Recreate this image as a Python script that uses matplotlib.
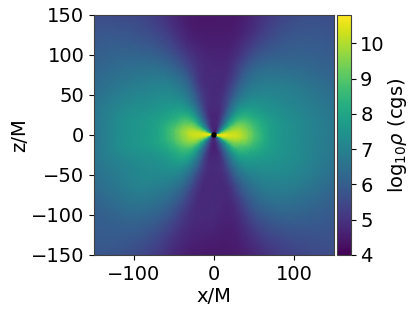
# density slice in the x-z plane, values on a polar grid
import numpy as np
import matplotlib
matplotlib.use('Agg')
import matplotlib.pyplot as plt
import matplotlib.tri as mtri

theta_deg = [0, 7, 16, 30, 48, 66, 78, 90, 102, 114, 132, 150, 164, 173,
             180, 187, 196, 210, 228, 246, 258, 270, 282, 294, 312, 330, 344, 353]
radii = [3, 6, 10, 16, 24, 35, 50, 70, 95, 125, 160, 215]

rho_r3 = [10.7, 10.4, 9.0, 6.8, 5.2, 4.6, 4.5, 4.6, 4.5, 4.6, 5.2, 6.8, 9.0, 10.4,
          10.7, 10.4, 9.0, 6.8, 5.2, 4.8, 4.6, 4.6, 4.6, 4.8, 5.2, 6.8, 9.0, 10.4]
rho_r6 = [10.7, 10.5, 9.4, 7.4, 5.6, 4.8, 4.6, 4.6, 4.6, 4.8, 5.6, 7.4, 9.4, 10.5,
          10.7, 10.5, 9.4, 7.4, 5.7, 5.0, 4.7, 4.7, 4.7, 5.0, 5.7, 7.4, 9.4, 10.5]
rho_r10 = [10.6, 10.4, 9.7, 7.9, 6.1, 5.0, 4.7, 4.7, 4.7, 5.0, 6.1, 7.9, 9.7, 10.4,
           10.6, 10.4, 9.7, 7.9, 6.1, 5.2, 4.8, 4.7, 4.8, 5.2, 6.1, 7.9, 9.7, 10.4]
rho_r16 = [10.5, 10.3, 9.8, 8.3, 6.5, 5.2, 4.8, 4.7, 4.8, 5.2, 6.5, 8.3, 9.8, 10.3,
           10.4, 10.3, 9.8, 8.3, 6.5, 5.3, 4.8, 4.6, 4.8, 5.3, 6.5, 8.3, 9.8, 10.3]
rho_r24 = [10.3, 10.2, 9.8, 8.7, 6.9, 5.4, 4.8, 4.7, 4.8, 5.4, 6.9, 8.7, 9.8, 10.2,
           10.3, 10.2, 9.8, 8.7, 6.9, 5.4, 4.8, 4.7, 4.8, 5.4, 6.9, 8.7, 9.8, 10.2]
rho_r35 = [10.0, 9.9, 9.6, 8.8, 7.3, 5.6, 4.9, 4.8, 4.9, 5.6, 7.3, 8.8, 9.6, 9.9,
           9.9, 9.8, 9.5, 8.7, 7.3, 5.6, 4.9, 4.8, 4.9, 5.6, 7.2, 8.6, 9.4, 9.9]
rho_r50 = [9.0, 8.9, 8.7, 8.2, 7.3, 5.8, 5.0, 4.8, 5.0, 5.8, 7.3, 8.2, 8.7, 9.0,
           9.0, 8.9, 8.6, 8.2, 7.3, 5.7, 4.9, 4.8, 4.9, 5.7, 7.2, 8.0, 8.6, 8.9]
rho_r70 = [7.9, 7.9, 7.8, 7.5, 7.0, 5.8, 4.9, 4.8, 4.9, 5.9, 7.1, 7.6, 7.9, 8.0,
           8.0, 8.0, 7.8, 7.5, 7.0, 5.6, 4.8, 4.8, 4.8, 5.6, 6.9, 7.5, 7.8, 7.9]
rho_r95 = [7.4, 7.4, 7.3, 7.1, 6.7, 5.7, 4.8, 4.7, 4.9, 5.7, 6.8, 7.2, 7.5, 7.6,
           7.6, 7.6, 7.4, 7.2, 6.7, 5.5, 4.8, 4.8, 4.7, 5.5, 6.7, 7.2, 7.4, 7.4]
rho_r125 = [7.0, 7.0, 6.9, 6.7, 6.2, 5.3, 4.6, 4.5, 4.6, 5.3, 6.3, 6.8, 7.1, 7.2,
            7.2, 7.2, 7.0, 6.9, 6.4, 5.3, 4.7, 4.6, 4.6, 5.3, 6.3, 6.8, 7.0, 7.0]
rho_r160 = [6.6, 6.6, 6.5, 6.2, 5.9, 5.1, 4.5, 4.4, 4.5, 5.1, 5.9, 6.3, 6.5, 6.5,
            6.4, 6.5, 6.5, 6.3, 6.0, 5.1, 4.5, 4.4, 4.5, 5.0, 5.8, 6.2, 6.5, 6.6]
rho_r215 = [6.0, 6.0, 6.0, 5.8, 5.5, 5.0, 4.6, 4.4, 4.6, 5.0, 5.5, 5.9, 6.0, 6.0,
            6.0, 6.0, 6.0, 5.9, 5.8, 5.0, 4.5, 4.4, 4.5, 4.9, 5.5, 5.8, 6.0, 6.0]

rho = np.array([rho_r3, rho_r6, rho_r10, rho_r16, rho_r24, rho_r35, rho_r50,
                rho_r70, rho_r95, rho_r125, rho_r160, rho_r215])

th = np.radians(theta_deg)
R, T = np.meshgrid(radii, th, indexing='ij')
x = (R * np.cos(T)).ravel()
z = (R * np.sin(T)).ravel()

# wrap the last angle back to the first so the ring closes
nr, nth = R.shape
tris = []
for i in range(nr - 1):
    for j in range(nth):
        a = i * nth + j
        b = i * nth + (j + 1) % nth
        c = a + nth
        d = b + nth
        tris.append([a, b, c])
        tris.append([b, d, c])
tri = mtri.Triangulation(x, z, tris)

# smooth the shading between the table values, the radial streaks go away
refiner = mtri.UniformTriRefiner(tri)
tri_fine, rho_fine = refiner.refine_field(rho.ravel(), subdiv=2)

plt.rcParams['font.size'] = 14

fig = plt.figure(figsize=(4.15, 3.14), dpi=100)
ax = fig.add_axes([94 / 415, 1 - 255 / 314, 240 / 415, 240 / 314])
cax = fig.add_axes([337 / 415, 1 - 255 / 314, 13.5 / 415, 240 / 314])

im = ax.tripcolor(tri_fine, rho_fine, shading='gouraud', cmap='viridis', vmin=4, vmax=10.8)
ax.add_patch(plt.Circle((0, 0), 2.5, color='black', zorder=5))

ax.set_xlim(-150, 150)
ax.set_ylim(-150, 150)
ax.set_xticks([-100, 0, 100])
ax.set_yticks([-150, -100, -50, 0, 50, 100, 150])
ax.set_xlabel('x/M', labelpad=2)
ax.set_ylabel('z/M', labelpad=1.5)

cb = fig.colorbar(im, cax=cax)
cb.set_ticks([4, 5, 6, 7, 8, 9, 10])
cb.set_label(r'log$_{10}\rho$ (cgs)', fontsize=14, labelpad=1)

for spine in list(ax.spines.values()) + list(cax.spines.values()):
    spine.set_edgecolor('#404040')

fig.savefig('out.png', dpi=100)
